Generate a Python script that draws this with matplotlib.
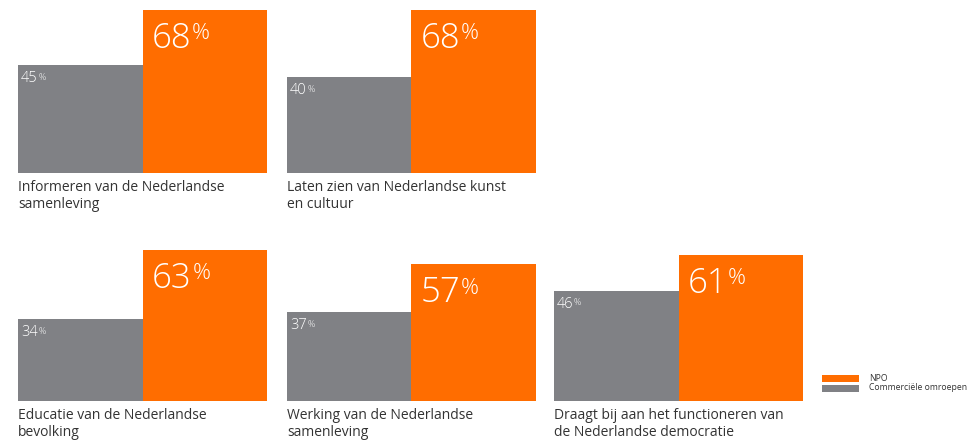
import matplotlib
matplotlib.use("Agg")
import matplotlib.pyplot as plt

plt.rcParams['font.family'] = ['Open Sans', 'DejaVu Sans']

# data
categories = [
    "Informeren van de Nederlandse\nsamenleving",
    "Laten zien van Nederlandse kunst\nen cultuur",
    "Educatie van de Nederlandse\nbevolking",
    "Werking van de Nederlandse\nsamenleving",
    "Draagt bij aan het functioneren van\nde Nederlandse democratie",
]
commercieel = [45, 40, 34, 37, 46]
npo = [68, 68, 63, 57, 61]
series_names = ["NPO", "Commerciële omroepen"]

orange = "#FF6D00"
grey = "#808185"
txt = "#333333"

W, H = 974, 442
fig = plt.figure(figsize=(W / 100, H / 100), dpi=100)

# panel left edge (px) and baseline (px from top)
lefts = [18, 287, 18, 287, 554]
bases = [173, 173, 401, 401, 401]
px_per_pct = 2.4
ymax = 70

pt = 0.72  # points per pixel at dpi 100

for i in range(len(categories)):
    ax = fig.add_axes([lefts[i] / W, (H - bases[i]) / H, 249 / W, ymax * px_per_pct / H])
    ax.bar([0, 1], [commercieel[i], npo[i]], width=1, align='edge',
           color=[grey, orange], linewidth=0)
    ax.set_xlim(0, 2)
    ax.set_ylim(0, ymax)
    ax.axis('off')

    # big NPO value
    t = ax.annotate(str(npo[i]), xy=(1, npo[i]), xytext=(9 * pt, -38 * pt),
                    textcoords='offset points', ha='left', va='baseline',
                    fontsize=25, color='white', fontweight='light')
    ax.annotate('%', xy=(1, 1), xycoords=t, xytext=(0.8, -1.5),
                textcoords='offset points', ha='left', va='top',
                fontsize=16, color='white', fontweight='light')

    # small commercial value
    t2 = ax.annotate(str(commercieel[i]), xy=(0, commercieel[i]), xytext=(3 * pt, -17 * pt),
                     textcoords='offset points', ha='left', va='baseline',
                     fontsize=10.5, color='white', fontweight='light')
    ax.annotate('%', xy=(1, 1), xycoords=t2, xytext=(0.3, -1.2),
                textcoords='offset points', ha='left', va='top',
                fontsize=6.5, color='white', fontweight='light')

    # category label below bars
    for j, line in enumerate(categories[i].split("\n")):
        ax.annotate(line, xy=(0, 0), xycoords='axes fraction',
                    xytext=(0, -(18 + 17 * j) * pt), textcoords='offset points',
                    ha='left', va='baseline', fontsize=10, color=txt)

# legend
lax = fig.add_axes([0, 0, 1, 1], facecolor='none')
lax.set_xlim(0, W)
lax.set_ylim(H, 0)
lax.axis('off')
leg_colors = [orange, grey]
for k, name in enumerate(series_names):
    y0 = 375 + k * 9.5
    lax.add_patch(plt.Rectangle((822, y0), 37, 7, color=leg_colors[k], linewidth=0))
    lax.text(869, y0 + 3.5, name, ha='left', va='center', fontsize=6.2, color=txt)

fig.savefig("out.png", dpi=100)
